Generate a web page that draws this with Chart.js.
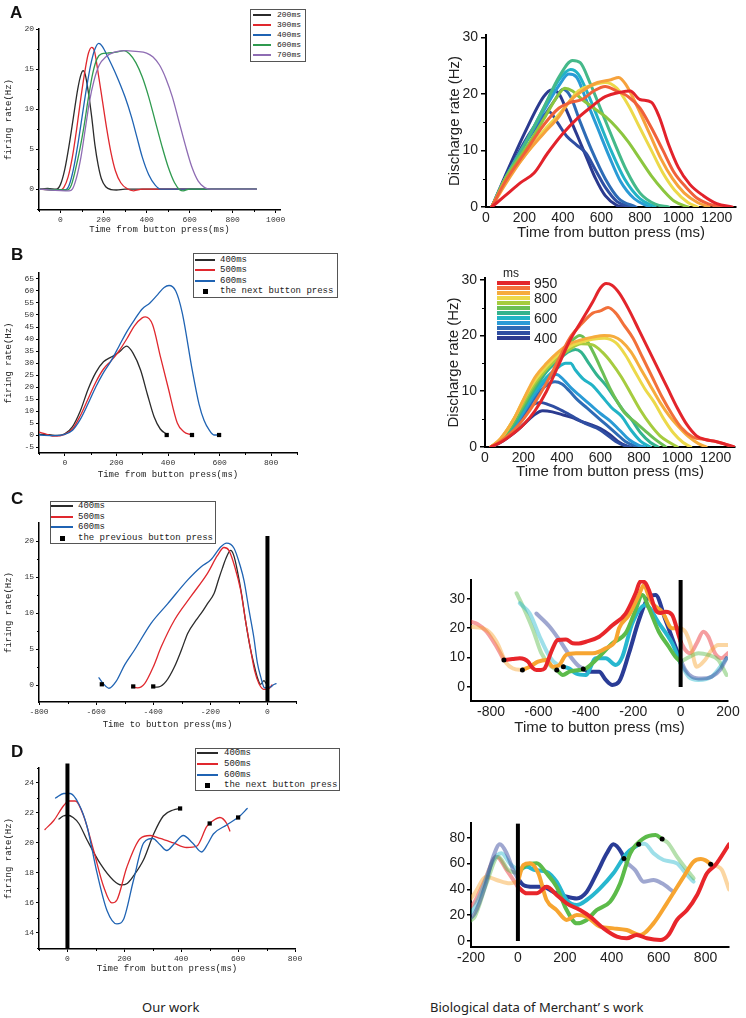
<!DOCTYPE html>
<html><head><meta charset="utf-8">
<script src="https://cdn.jsdelivr.net/npm/chart.js@4.4.0/dist/chart.umd.min.js"></script>
<style>
html,body{margin:0;padding:0;background:#fff;}
#root{position:relative;width:746px;height:1018px;overflow:hidden;background:#fff;}
canvas{position:absolute;}
.lbl{position:absolute;font-family:"Liberation Sans",Arial,sans-serif;font-weight:bold;font-size:17px;color:#111;line-height:20px;}
.leg{position:absolute;border:1px solid #555;background:#fff;box-sizing:border-box;}
.legtxt{position:absolute;font-family:"Liberation Mono",monospace;color:#222;white-space:nowrap;}
.cap{position:absolute;font-family:"Noto Sans","Open Sans",sans-serif;font-size:13px;color:#222;white-space:nowrap;line-height:16px;}
.sp{position:absolute;font-family:"Liberation Sans",Arial,sans-serif;color:#222;white-space:nowrap;}
</style></head><body><div id="root"></div>
<script>
// ===================== DATA =====================
// Panel A (our work): firing rate vs time from button press, by interval
const aL_200 = [[-100,0],[-60,0.1],[-20,0],[0,0.6],[20,2.5],[40,5.5],[60,9],[80,12.5],[95,14.3],[105,14.8],[115,14.3],[130,12],[145,9],[160,5.5],[175,3],[190,1.3],[210,0.3],[235,-0.05],[260,-0.1],[300,0],[910,0]];
const aL_300 = [[-100,0],[0,-0.1],[15,0.2],[35,1.5],[55,4],[75,7.5],[95,11.5],[115,15],[130,17],[145,17.7],[158,17.2],[175,14.5],[195,11],[215,7.5],[235,4.5],[255,2.3],[280,0.8],[310,0.05],[340,-0.2],[380,0],[910,0]];
const aL_400 = [[-100,0],[20,-0.1],[40,0.5],[60,2.5],[80,5.5],[100,9],[120,12.5],[140,15.5],[160,17.5],[178,18.2],[195,17.8],[220,16.5],[260,14.2],[300,11.5],[330,9],[355,6.5],[380,4],[410,1.8],[440,0.5],[465,0],[910,0]];
const aL_600 = [[-100,0],[30,-0.1],[50,0.5],[70,2.5],[90,5],[110,8],[130,11.5],[150,14.5],[170,16.3],[190,16.9],[220,17],[260,17.1],[295,17.3],[320,16.9],[350,15.8],[380,14],[410,11.5],[440,8.5],[470,5.5],[500,2.8],[530,0.8],[555,-0.1],[570,-0.2],[600,0],[910,0]];
const aL_700 = [[-100,0],[40,-0.2],[55,0],[75,1.5],[95,4],[115,7.5],[135,11],[155,13.5],[180,15.5],[210,16.5],[250,17.1],[300,17.3],[350,17.2],[400,17],[430,16.5],[460,15.5],[490,13.8],[520,11.5],[550,8.5],[580,5.5],[610,2.8],[640,1],[670,0.2],[700,0],[910,0]];
const aL_labels = ['200ms','300ms','400ms','600ms','700ms'];
const aL_xTicks = [0,200,400,600,800,1000], aL_yTicks = [0,5,10,15,20];
const aL_xMinor = [-100,100,300,500,700,900], aL_yMinor = [-2.5,2.5,7.5,12.5,17.5];

// Panel A (Merchant): discharge rate, 11 interval curves (short -> long)
const aR_c1 = [[30,0],[100,5.5],[200,13],[300,19.5],[340,20.7],[380,20],[420,17],[470,13],[520,9],[570,5],[620,2],[680,0.3],[720,0]];
const aR_c2 = [[30,0],[100,5],[200,11.5],[280,15.5],[330,16.8],[370,15],[420,12.5],[470,11],[520,9.5],[570,6.5],[620,3.5],[680,1],[750,0]];
const aR_c3 = [[30,0],[100,5],[200,11],[300,16],[360,19],[400,20.8],[440,19.5],[490,15],[550,10],[620,5],[690,1.5],[780,0]];
const aR_c4 = [[30,0],[100,5],[200,11],[300,17],[380,21.5],[430,23.5],[470,23],[520,19],[580,14],[640,9],[700,4.5],[770,1.5],[850,0]];
const aR_c5 = [[30,0],[100,5],[200,11],[300,17.5],[380,22.5],[440,24.3],[480,23.5],[530,20],[590,15],[650,10],[720,5],[800,1.5],[880,0]];
const aR_c6 = [[30,0],[100,5],[200,11],[300,17.5],[380,23],[450,25.9],[490,25.5],[540,22],[600,17],[660,12],[730,6.5],[800,2.5],[880,0.5],[950,0]];
const aR_c7 = [[30,0],[100,5],[200,10],[300,15.5],[370,19.5],[410,21],[450,20.5],[500,19],[560,17.5],[620,16],[680,14],[740,11.5],[800,8.5],[860,5.5],[920,3],[980,1],[1050,0]];
const aR_c8 = [[30,0],[100,4.5],[200,9],[300,13.5],[370,16],[420,18],[480,20.5],[550,21.5],[620,22],[680,21],[740,18],[800,14],[860,10],[920,6],[980,3],[1050,0.8],[1100,0]];
const aR_c9 = [[30,0],[100,4],[200,9],[300,13],[380,16],[430,18.5],[500,20.5],[580,22],[650,22.5],[690,22.9],[730,21.5],[790,17.5],[850,13],[910,8.5],[970,5],[1030,2.5],[1100,0.8],[1160,0]];
const aR_c10 = [[30,0],[100,4.5],[200,9.5],[300,14.5],[380,17.5],[440,18.5],[500,19],[560,20.5],[620,21.3],[680,20.5],[740,19.5],[800,17.5],[860,14],[920,10],[980,6],[1040,3.5],[1100,1.5],[1180,0.3],[1250,0]];
const aR_c11 = [[30,0],[100,2],[180,4.3],[250,6],[320,9.5],[400,13],[470,15.5],[540,17.5],[620,19.5],[700,20.3],[750,20.5],[800,19],[860,18.5],[900,16],[950,11],[1000,7],[1060,4],[1130,2],[1200,0.6],[1280,0]];
const aR_xTicks = [0,200,400,600,800,1000,1200], aR_yTicks = [0,10,20,30], aR_yMinor = [5,15,25];

// Panel B (our work)
const bL_400 = [[-100,0.3],[-60,0.1],[-30,-0.2],[0,0.5],[30,3.5],[60,10],[90,19],[120,26],[150,30.5],[180,32.5],[210,34.5],[240,37],[265,34],[294,27],[320,17],[346,7.6],[370,2.5],[395,0.3]];
const bL_500 = [[-100,1.2],[-70,0.3],[-40,-0.5],[0,0.3],[30,2.5],[60,8],[90,15],[120,22],[150,27.5],[180,31],[210,35],[240,40],[270,45.5],[300,48.8],[312,49.2],[340,46],[372,32],[400,20],[436,5],[460,1.5],[481,0.4],[492,0.3]];
const bL_600 = [[-100,0],[-40,-0.3],[0,0.3],[30,2],[60,6.5],[90,13],[120,20],[150,26],[180,31],[210,37],[240,43],[270,48],[300,52.5],[330,55],[360,58.5],[385,61.5],[404,62.3],[430,60],[455,51],[494,27],[520,13],[540,6],[560,2],[578,0],[597,0]];
const bL_next = [[395,0],[493,0],[598,0]];
const bL_labels = ['400ms','500ms','600ms','the next button press'];
const bL_xTicks = [0,200,400,600,800], bL_yTicks = [-5,0,5,10,15,20,25,30,35,40,45,50,55,60,65];
const bL_xMinor = [-100,100,300,500,700,900];

// Panel B (Merchant): 12 intervals 400..950 ms
const bR_400 = [[30,0],[80,0.8],[150,2.5],[200,4],[250,5.6],[300,6.5],[350,6.3],[400,5.8],[450,5.3],[500,4.6],[550,4],[600,3.3],[650,2.2],[700,0.8],[750,0]];
const bR_450 = [[30,0],[80,1],[150,3],[200,5.5],[250,7.6],[290,8],[330,7.6],[380,6.9],[430,6],[480,5],[530,4.1],[580,3.4],[630,2.3],[680,1],[730,0.2],[760,0]];
const bR_500 = [[30,0],[80,1],[150,3.5],[200,6],[260,8.8],[310,10.8],[364,11.7],[400,11.3],[440,10],[480,8.5],[530,7],[580,5.5],[630,4],[680,2.5],[730,1],[780,0.2],[800,0]];
const bR_550 = [[30,0],[80,1],[150,3.5],[200,6.2],[260,9.5],[320,12],[372,13],[410,12],[450,10.5],[500,9],[550,7.5],[600,6],[650,4.7],[700,3],[750,1.3],[800,0.3],[830,0]];
const bR_600 = [[30,0],[80,1],[150,4],[200,6.7],[260,10],[320,12.5],[370,14],[420,15],[445,15],[470,13.8],[510,12.2],[560,11],[610,9],[660,7],[710,5.5],[760,3],[810,1],[860,0]];
const bR_650 = [[30,0],[80,1.1],[150,4],[200,7],[260,10.5],[320,13.5],[380,15.5],[430,17],[470,17.5],[500,17],[540,15],[580,13],[630,11],[680,8.5],[720,6.5],[760,5],[810,2.5],[860,0.8],[900,0]];
const bR_700 = [[30,0],[80,1.2],[150,4.5],[200,7.5],[260,11],[320,14],[380,16.5],[440,18.7],[494,20],[530,19],[570,16.5],[610,13.5],[650,10.5],[690,8],[730,6],[780,4.5],[830,3],[880,1.5],[940,0]];
const bR_750 = [[30,0],[80,1.3],[150,5],[200,8],[260,11.5],[320,14],[380,16],[440,17.5],[500,18.5],[560,18.3],[610,17],[660,15],[710,12.5],[760,9.5],[810,6.5],[860,4],[910,2],[960,0.8],[1000,0]];
const bR_800 = [[30,0],[80,1.4],[150,5],[200,8.5],[260,12],[320,14.5],[380,16.5],[440,18],[500,18.8],[560,19.3],[620,19.5],[680,18.7],[730,16.5],[780,13.5],[830,10.5],[880,8],[930,5],[980,2.5],[1030,0.8],[1070,0]];
const bR_850 = [[30,0],[80,1.5],[150,5],[200,8.5],[260,12.5],[320,15],[380,17],[440,18.5],[500,19.2],[560,19.7],[620,20],[670,19.8],[710,19],[760,17],[810,14],[860,11],[910,8],[960,5.5],[1010,3.5],[1060,1.8],[1110,0.6],[1150,0]];
const bR_900 = [[30,0],[80,1],[150,3],[200,5],[260,8],[320,11.5],[380,15.5],[440,19.5],[500,22],[560,24],[600,24.4],[640,25],[680,24],[720,22],[770,19.5],[820,16],[870,12.5],[920,9],[970,6],[1020,3.5],[1080,1.8],[1150,1.3],[1220,0.8],[1290,0]];
const bR_950 = [[30,0],[80,0.8],[150,2.5],[200,4],[260,6.5],[320,10],[380,14.5],[440,19],[500,22.5],[560,26],[600,28.5],[630,29.3],[660,29],[700,27.5],[750,24.5],[800,21],[850,17.5],[900,14],[950,10.5],[1000,7],[1050,4],[1100,2],[1150,1.3],[1200,1],[1250,0.5],[1300,0]];
const bR_legendVals = ['950','800','600','400'];
const bR_xTicks = aR_xTicks, bR_yTicks = aR_yTicks;

// Panel C (our work): time to button press
const cL_400 = [[-400,-0.3],[-380,-0.25],[-355,0.5],[-326,2.5],[-300,5],[-279,7.2],[-250,9],[-233,9.9],[-210,11.3],[-187,12.7],[-170,14.8],[-158,16.2],[-143,17.8],[-129,18.7],[-118,18],[-106,16],[-90,12.5],[-77,9],[-62,5.5],[-48,3],[-35,1],[-24,0.1],[-12,0.6],[-6,0.3],[0,0]];
const cL_500 = [[-475,-0.3],[-455,-0.4],[-430,0.2],[-400,2.5],[-372,5.3],[-326,9],[-268,12.3],[-210,15.5],[-175,18],[-152,19.1],[-135,18.7],[-115,16.5],[-94,13.2],[-75,8.5],[-59,4.9],[-45,2],[-30,0.2],[-13,-0.6],[5,-0.5],[16,0]];
const cL_600 = [[-590,1],[-575,0.2],[-555,-0.45],[-530,0.5],[-500,2.8],[-465,4.9],[-407,8.6],[-349,11.3],[-279,14.6],[-233,16.4],[-198,17.4],[-163,19.2],[-143,19.7],[-117,19],[-95,16.5],[-82,14.5],[-65,10.5],[-48,6.7],[-35,3],[-24,1.2],[-10,-0.4],[0,-0.3],[10,-0.3],[20,0],[30,0.2]];
const cL_prev = [[-580,0.1],[-470,-0.2],[-400,-0.2]];
const cL_labels = ['400ms','500ms','600ms','the previous button press'];
const cL_xTicks = [-800,-600,-400,-200,0], cL_yTicks = [0,5,10,15,20];
const cL_xMinor = [-700,-500,-300,-100,100], cL_yMinor = [2.5,7.5,12.5,17.5];

// Panel C (Merchant)
const cR_red_pre = [[-885,22.2],[-860,21.5],[-819,18.8],[-777,13.7],[-746,9.2]];
const cR_red = [[-746,9.2],[-710,9.5],[-679,9.8],[-660,9.5],[-644,8.6],[-625,6.5],[-609,5.8],[-590,5.8],[-574,6.3],[-546,12],[-519,16],[-484,16.2],[-456,14.9],[-430,14.8],[-400,15.4],[-344,17.1],[-288,21],[-232,25],[-190,31.9],[-169,36],[-150,35.5],[-134,33],[-106,26.2],[-85,25.2],[-64,25.6],[-36,24.5],[-20,21],[-11,18.3],[0,15.4]];
const cR_red_post = [[0,15.4],[20,12.6],[40,11.5],[68,14.9],[96,18.8],[117,17.1],[145,11.5],[173,9.8],[200,11.5]];
const cR_org_pre = [[-885,20.5],[-819,19.4],[-777,15.4],[-735,8],[-707,6.3],[-668,5.8]];
const cR_org = [[-668,5.8],[-637,6.9],[-602,8.6],[-567,9.2],[-539,6.9],[-512,7.5],[-484,10.9],[-442,11.5],[-372,11.5],[-316,13.2],[-274,16],[-260,20],[-218,24.5],[-176,31.3],[-155,34.7],[-135,31],[-120,28.5],[-78,25.6],[-36,20],[0,20]];
const cR_org_post = [[0,20],[20,18.8],[40,14.9],[68,6.9],[103,9.2],[131,12.6],[159,14.3],[200,14.3]];
const cR_grn_pre = [[-693,31.9],[-665,27.3],[-623,19.4],[-588,11.5],[-553,7.5],[-523,5.8]];
const cR_grn = [[-523,5.8],[-497,4.1],[-470,5.2],[-428,5.8],[-400,6.3],[-344,10.3],[-288,14.9],[-232,18.3],[-190,26.2],[-162,31.3],[-134,26.8],[-92,18.8],[-50,13.7],[-22,10.3],[0,8.6]];
const cR_grn_post = [[0,8.6],[34,10.1],[75,11.5],[117,10.9],[159,9.2],[194,4.1]];
const cR_cyn_pre = [[-679,28.5],[-637,25],[-595,17.1],[-553,10.3],[-519,7.5],[-495,6.9]];
const cR_cyn = [[-495,6.9],[-470,6.3],[-442,4.6],[-400,4.1],[-358,9.8],[-316,9.8],[-274,7.5],[-246,10.3],[-204,21.7],[-148,27.9],[-92,21.7],[-36,14.9],[0,8]];
const cR_cyn_post = [[0,8],[34,3.5],[75,2.4],[131,3.5],[194,9.8]];
const cR_nav_pre = [[-609,25],[-553,20.5],[-512,16],[-470,10.9],[-435,7.5],[-411,6.1]];
const cR_nav = [[-411,6.1],[-386,5.2],[-344,5.2],[-316,2.4],[-288,0.7],[-260,1.8],[-218,11.5],[-176,22.8],[-134,30.7],[-106,31.3],[-64,22.8],[-22,13.7],[0,9.2]];
const cR_nav_post = [[0,9.2],[20,5.8],[48,3.5],[89,2.9],[131,3.5],[166,5.8],[194,9.8]];
const cR_dots = [[-746,9.2],[-668,5.8],[-523,5.8],[-495,6.9],[-411,6.1]];
const cR_xTicks = [-800,-600,-400,-200,0,200], cR_yTicks = [0,10,20,30];

// Panel D (our work)
const dL_400 = [[-30,21.6],[-15,21.8],[0,21.85],[20,21.7],[40,21.3],[69,20.2],[116,18.6],[162,17.5],[190,17.2],[210,17.3],[232,17.8],[268,18.9],[303,20.6],[337,21.8],[372,22.2],[396,22.3]];
const dL_500 = [[-79,20.9],[-48,21.5],[-13,22.5],[5,22.8],[28,22.8],[57,21.8],[92,19.5],[127,17.1],[156,16],[174,16.2],[209,18.4],[256,20.3],[291,20.5],[326,20.3],[373,20],[419,19.7],[455,19.8],[490,21.1],[513,21.5],[536,21.7],[560,21.3],[571,20.8]];
const dL_600 = [[-42,23],[-13,23.3],[10,23.3],[40,22.6],[69,21.1],[104,18],[139,15.5],[174,14.6],[197,14.9],[232,17.5],[268,20],[300,20.3],[325,19.9],[349,19.5],[378,20],[407,20.5],[440,20],[472,19.4],[495,20],[513,20.6],[560,21.2],[606,21.8],[632,22.3]];
const dL_next = [[396,22.3],[500,21.3],[600,21.7]];
const dL_labels = ['400ms','500ms','600ms','the next button press'];
const dL_xTicks = [0,200,400,600,800], dL_yTicks = [14,16,18,20,22,24];
const dL_xMinor = [-100,100,300,500,700], dL_yMinor = [13,15,17,19,21,23,25];

// Panel D (Merchant)
const dR_nav_pre = [[-200,18],[-184,21.4],[-141,42],[-105,65.4],[-77,75],[-48,68],[-20,55],[0,48.6]];
const dR_nav = [[0,48.6],[23,43.4],[66,42],[108,42],[151,38],[208,34.4],[251,33],[293,38],[336,52.5],[379,68],[407,75],[443,68],[452,64]];
const dR_nav_post = [[452,64],[464,61],[500,55],[536,46],[578,47.3],[614,44.7],[664,38]];
const dR_cyn_pre = [[-200,22],[-184,26.6],[-148,42],[-105,62.8],[-70,68],[-34,60],[0,55]];
const dR_cyn = [[0,55],[37,57.6],[73,55],[122,53.7],[165,46],[208,31.8],[251,27.9],[293,31.8],[350,40.8],[407,52.5],[464,68],[515,75]];
const dR_cyn_post = [[515,75],[540,75.5],[578,68],[621,62.8],[678,60.2],[721,51.2],[749,46]];
const dR_grn_pre = [[-200,16],[-184,18.9],[-134,44.7],[-84,65.4],[-41,55],[0,52.5]];
const dR_grn = [[0,52.5],[37,58.9],[80,60.2],[122,52.5],[165,42],[208,24],[251,13.7],[293,16.3],[336,24],[393,30.5],[436,44.7],[479,68],[536,79.6],[587,82.2],[615,79]];
const dR_grn_post = [[615,79],[640,76],[678,65.4],[721,55],[749,48.6]];
const dR_org_pre = [[-200,33],[-184,37],[-134,49.9],[-91,47.3],[-34,44.7],[0,46]];
const dR_org = [[0,46],[23,58.9],[51,60.2],[87,52.5],[122,31.8],[165,24],[208,16.3],[251,20.2],[293,18.9],[350,11.1],[407,9.8],[464,8.5],[521,4.7],[578,13.7],[635,29.2],[707,49.9],[749,61.5],[780,63.5],[800,62.5],[822,59.5]];
const dR_org_post = [[822,59.5],[850,58],[870,55],[900,40]];
const dR_red_pre = [[-200,27],[-184,30.5],[-141,47.3],[-91,65.4],[-48,55],[0,42]];
const dR_red = [[0,42],[37,37],[80,37],[122,42],[165,35.7],[208,29.2],[265,24],[308,18.9],[365,9.8],[422,3.4],[464,2.1],[507,4.7],[550,2.1],[607,0.8],[642,4.7],[678,16.3],[721,24],[764,35.7],[806,52.5],[842,58.9],[900,75]];
const dR_dots = [[452,64],[515,75],[615,79],[822,59.5]];
const dR_xTicks = [-200,0,200,400,600,800], dR_yTicks = [0,20,40,60,80];

// ===================== RENDER =====================
const root = document.getElementById('root');
const LM = '"Liberation Mono","DejaVu Sans Mono",monospace';
const LS = '"Liberation Sans",Arial,sans-serif';

function P(a){ return a.map(p => ({x:p[0], y:p[1]})); }
function line(data, color, w){ return {data:P(data), borderColor:color, backgroundColor:color, borderWidth:w, pointRadius:0, fill:false, cubicInterpolationMode:'monotone', borderCapStyle:'round', borderJoinStyle:'round'}; }
function marks(data, style, r){ return {data:P(data), showLine:false, pointStyle:style, pointRadius:r, pointBackgroundColor:'#000', pointBorderColor:'#000', pointBorderWidth:0, borderColor:'#000', backgroundColor:'#000'}; }
function vbar(x, y0, y1, w){ return {data:P([[x,y0],[x,y1]]), borderColor:'#000', borderWidth:w, pointRadius:0, tension:0, clip:false, borderCapStyle:'butt'}; }
function fade(hex, a){ const n=parseInt(hex.slice(1),16); return `rgba(${n>>16},${(n>>8)&255},${n&255},${a})`; }

const minorTicks = { id:'minorTicks', afterDraw(chart, args, opts){
  if(!opts || (!opts.x && !opts.y)) return;
  const ctx = chart.ctx, xs = chart.scales.x, ys = chart.scales.y, len = opts.len || 2;
  ctx.save(); ctx.strokeStyle = '#000'; ctx.lineWidth = 1; ctx.beginPath();
  (opts.x||[]).forEach(v => { const px = Math.round(xs.getPixelForValue(v)) + 0.5; ctx.moveTo(px, xs.top); ctx.lineTo(px, xs.top + len); });
  (opts.y||[]).forEach(v => { const py = Math.round(ys.getPixelForValue(v)) + 0.5; ctx.moveTo(ys.right, py); ctx.lineTo(ys.right - len, py); });
  ctx.stroke(); ctx.restore();
}};
Chart.register(minorTicks);

function makeChart(o){
  const W = o.r - o.l + o.padL + o.padR, H = o.b - o.t + o.padT + o.padB;
  const cv = document.createElement('canvas');
  cv.width = W; cv.height = H;
  Object.assign(cv.style, {left:(o.l - o.padL)+'px', top:(o.t - o.padT)+'px', width:W+'px', height:H+'px'});
  root.appendChild(cv);
  const axis = isX => {
    const ticks = isX ? o.xTicks : o.yTicks;
    const tl = isX ? o.xTickLen : o.yTickLen;
    return {
      type:'linear', min: isX ? o.xMin : o.yMin, max: isX ? o.xMax : o.yMax,
      afterBuildTicks: s => { s.ticks = ticks.map(v => ({value:v})); },
      afterFit: s => { if(isX) s.height = o.padB; else s.width = o.padL; s.paddingLeft = 0; s.paddingRight = 0; s.paddingTop = 0; s.paddingBottom = 0; },
      grid: {display: tl > 0, drawOnChartArea:false, drawTicks:true, tickLength: tl, color:'#000', lineWidth: o.tickW},
      border: {display:true, color:'#000', width:o.axisW},
      ticks: {font:o.tickFont, color:o.tickColor, padding: isX ? o.xPad : o.yPad, autoSkip:false, maxRotation:0, minRotation:0, callback: v => String(v)},
      title: {display: !!(isX ? o.xTitle : o.yTitle), text: isX ? o.xTitle : o.yTitle, font:o.titleFont, color:o.titleColor, padding:0}
    };
  };
  new Chart(cv, {type:'line', data:{datasets:o.datasets.slice().reverse()}, options:{
    responsive:false, animation:false, events:[],
    layout:{padding:{top:o.padT, right:o.padR, left:0, bottom:0}},
    plugins:{legend:{display:false}, tooltip:{enabled:false}, minorTicks:o.minor || {}},
    scales:{x:axis(true), y:axis(false)}
  }});
}

const LEFT = {padT:8, padR:22, padL:36, tickFont:{family:LM,size:8}, titleFont:{family:LM,size:9}, tickColor:'#333', titleColor:'#222', axisW:1.5, tickW:1, xTickLen:3, yTickLen:3, xPad:2, yPad:2};
const RIGHT = {padT:10, padR:25, padL:40, tickFont:{family:LS,size:14}, titleFont:{family:LS,size:15}, tickColor:'#222', titleColor:'#222', axisW:2, tickW:1.5, xTickLen:0, yTickLen:5, xPad:3, yPad:3};

const cBlack='#2b2b2b', cRed='#e0282e', cBlue='#1f63b3', cGreen='#2f9a4f', cPurple='#8e6cb3';
const spec12 = ['#2b3a8f','#2f4ea2','#2e6bb5','#2a9bd6','#22b3c6','#33b38e','#6cbf55','#a6cc3f','#ecd94a','#f6ac3d','#f2703a','#e3252b'];
const nav='#2a3c96', cyn='#27b7cf', grn='#5cbb4a', org='#f7a531', red='#e8262b';

// A left
makeChart(Object.assign({}, LEFT, {l:39, r:280, t:29, b:210, padB:25, xMin:-100, xMax:1020, yMin:-2.6, yMax:20,
  xTicks:aL_xTicks, yTicks:aL_yTicks, xTitle:'Time from button press(ms)', yTitle:'firing rate(Hz)',
  minor:{x:aL_xMinor, y:aL_yMinor, len:2},
  datasets:[line(aL_200,cBlack,1.3), line(aL_300,cRed,1.3), line(aL_400,cBlue,1.3), line(aL_600,cGreen,1.3), line(aL_700,cPurple,1.3)]}));

// A right
const aRset = [aR_c1,aR_c2,aR_c3,aR_c4,aR_c5,aR_c6,aR_c7,aR_c8,aR_c9,aR_c10,aR_c11];
const aRcol = ['#2b3a8f','#2f4ea2','#2e6bb5','#2a9bd6','#22b3c6','#45b98a','#8cc63f','#ecd94a','#f6a23c','#f0603a','#e2222b'];
makeChart(Object.assign({}, RIGHT, {l:486, r:736, t:35, b:207, padB:35, xMin:0, xMax:1300, yMin:0, yMax:30.4,
  xTicks:aR_xTicks, yTicks:aR_yTicks, xTitle:'Time from button press (ms)', yTitle:'Discharge rate (Hz)',
  minor:{y:aR_yMinor, len:3},
  datasets: aRset.map((d,i) => line(d, aRcol[i], 3))}));

// B left
makeChart(Object.assign({}, LEFT, {l:39, r:297, t:273, b:453, padB:27, xMin:-100, xMax:900, yMin:-7.5, yMax:67.5,
  xTicks:bL_xTicks, yTicks:bL_yTicks, xTitle:'Time from button press(ms)', yTitle:'firing rate(Hz)',
  minor:{x:bL_xMinor, len:2},
  datasets:[line(bL_400,cBlack,1.3), line(bL_500,cRed,1.3), line(bL_600,cBlue,1.3), marks(bL_next,'rect',3)]}));

// B right
const bRset = [bR_400,bR_450,bR_500,bR_550,bR_600,bR_650,bR_700,bR_750,bR_800,bR_850,bR_900,bR_950];
makeChart(Object.assign({}, RIGHT, {l:485, r:735, t:278, b:447, padB:34, xMin:0, xMax:1300, yMin:0, yMax:30.3,
  xTicks:bR_xTicks, yTicks:bR_yTicks, xTitle:'Time from button press (ms)', yTitle:'Discharge rate (Hz)',
  minor:{y:aR_yMinor, len:3},
  datasets: bRset.map((d,i) => line(d, spec12[i], 3))}));

// C left
makeChart(Object.assign({}, LEFT, {l:39, r:296, t:523, b:702, padB:28, xMin:-800, xMax:100, yMin:-2.36, yMax:22.5,
  xTicks:cL_xTicks, yTicks:cL_yTicks, xTitle:'Time to button press(ms)', yTitle:'firing rate(Hz)',
  minor:{x:cL_xMinor, y:cL_yMinor, len:2},
  datasets:[line(cL_400,cBlack,1.3), line(cL_500,cRed,1.3), line(cL_600,cBlue,1.3), vbar(0,-2.36,20.7,4), marks(cL_prev,'rect',3)]}));

// C right
const FA = 0.45;
makeChart(Object.assign({}, RIGHT, {l:471, r:728, t:580, b:701, padL:35, padB:36, xMin:-885, xMax:200, yMin:-4.76, yMax:36.4,
  yTickLen:4, yPad:2,
  xTicks:cR_xTicks, yTicks:cR_yTicks, xTitle:'Time to button press (ms)', yTitle:'',
  datasets:[
    line(cR_red_pre,fade(red,FA),4), line(cR_org_pre,fade(org,FA),4), line(cR_grn_pre,fade(grn,FA),4), line(cR_cyn_pre,fade(cyn,FA),4), line(cR_nav_pre,fade(nav,FA),4),
    line(cR_red_post,fade(red,FA),4), line(cR_org_post,fade(org,FA),4), line(cR_grn_post,fade(grn,FA),4), line(cR_cyn_post,fade(cyn,FA),4), line(cR_nav_post,fade(nav,FA),4),
    line(cR_nav,nav,4), line(cR_cyn,cyn,4), line(cR_grn,grn,4), line(cR_org,org,4), line(cR_red,red,4),
    vbar(0,0,36.4,4), marks(cR_dots,'circle',2.5)]}));

// D left
makeChart(Object.assign({}, LEFT, {l:39, r:295, t:768, b:949, padB:25, xMin:-100, xMax:800, yMin:12.93, yMax:25,
  xTicks:dL_xTicks, yTicks:dL_yTicks, xTitle:'Time from button press(ms)', yTitle:'firing rate(Hz)',
  minor:{x:dL_xMinor, y:dL_yMinor, len:2},
  datasets:[line(dL_400,cBlack,1.3), line(dL_500,cRed,1.3), line(dL_600,cBlue,1.3), vbar(0,12.93,25.3,4), marks(dL_next,'rect',3)]}));

// D right
makeChart(Object.assign({}, RIGHT, {l:471, r:729, t:823, b:947, padL:35, padB:25, xMin:-200, xMax:900, yMin:-4.65, yMax:91.5,
  yTickLen:4, yPad:2,
  xTicks:dR_xTicks, yTicks:dR_yTicks, xTitle:'', yTitle:'',
  datasets:[
    line(dR_red_pre,fade(red,FA),4), line(dR_org_pre,fade(org,FA),4), line(dR_grn_pre,fade(grn,FA),4), line(dR_cyn_pre,fade(cyn,FA),4), line(dR_nav_pre,fade(nav,FA),4),
    line(dR_nav_post,fade(nav,FA),4), line(dR_cyn_post,fade(cyn,FA),4), line(dR_grn_post,fade(grn,FA),4), line(dR_org_post,fade(org,FA),4),
    line(dR_nav,nav,4), line(dR_cyn,cyn,4), line(dR_grn,grn,4), line(dR_org,org,4), line(dR_red,red,4),
    vbar(0,0,91,4), marks(dR_dots,'circle',2.5)]}));

// ===================== LEGENDS & TEXT =====================
function div(cls, css, text){ const d=document.createElement('div'); if(cls) d.className=cls; Object.assign(d.style, css); if(text!==undefined) d.textContent=text; root.appendChild(d); return d; }
function legendBox(l,t,r,b,lx1,lx2,tx,fs,rows){
  div('leg', {left:l+'px', top:t+'px', width:(r-l)+'px', height:(b-t)+'px'});
  rows.forEach(([y,color,text]) => {
    if(color === 'sq') div(null, {position:'absolute', left:((lx1+lx2)/2-2.5)+'px', top:(y-2.5)+'px', width:'5px', height:'5px', background:'#000'});
    else div(null, {position:'absolute', left:lx1+'px', top:(y-0.75)+'px', width:(lx2-lx1)+'px', height:'1.5px', background:color});
    div('legtxt', {left:tx+'px', top:(y-fs*0.6)+'px', fontSize:fs+'px', lineHeight:(fs*1.2)+'px'}, text);
  });
}
legendBox(250,9,306,62,253,271,277,8,[[15,cBlack,aL_labels[0]],[25,cRed,aL_labels[1]],[35,cBlue,aL_labels[2]],[45,cGreen,aL_labels[3]],[55,cPurple,aL_labels[4]]]);
legendBox(193,253,338,298,195,215,220,9,[[260,cBlack,bL_labels[0]],[270,cRed,bL_labels[1]],[281,cBlue,bL_labels[2]],[291,'sq',bL_labels[3]]]);
legendBox(50,501,216,544,51,73,78,9,[[506,cBlack,cL_labels[0]],[517,cRed,cL_labels[1]],[527,cBlue,cL_labels[2]],[538,'sq',cL_labels[3]]]);
legendBox(195,748,340,791,197,218,224,9,[[753,cBlack,dL_labels[0]],[764,cRed,dL_labels[1]],[775,cBlue,dL_labels[2]],[785,'sq',dL_labels[3]]]);

// B right spectrum legend
div('sp', {left:'503px', top:'266px', fontSize:'12px', lineHeight:'14px'}, 'ms');
spec12.slice().reverse().forEach((c,i) => div(null, {position:'absolute', left:'497px', top:(281+i*5)+'px', width:'33px', height:'3.6px', background:c}));
[[283,bR_legendVals[0]],[298,bR_legendVals[1]],[318,bR_legendVals[2]],[338,bR_legendVals[3]]].forEach(([y,t]) => div('sp', {left:'534px', top:(y-8)+'px', fontSize:'14px', lineHeight:'16px'}, t));

// Panel letters
div('lbl', {left:'10px', top:'3px'}, 'A');
div('lbl', {left:'11px', top:'245px'}, 'B');
div('lbl', {left:'11px', top:'489px'}, 'C');
div('lbl', {left:'11px', top:'742px'}, 'D');

// Captions
div('cap', {left:'142px', top:'999px'}, 'Our work');
div('cap', {left:'430px', top:'999px'}, 'Biological data of Merchant’ s work');
</script></body></html>
